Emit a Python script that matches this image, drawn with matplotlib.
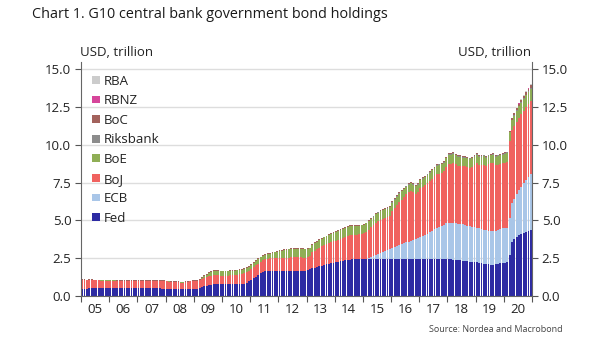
import matplotlib.pyplot as plt
import numpy as np
from matplotlib.patches import Patch

plt.rcParams['font.family'] = ['Open Sans', 'DejaVu Sans']

years = list(range(2005, 2021))
year_labels = [f"{y % 100:02d}" for y in years]

# monthly holdings, USD trillion, Jan 2005 - Dec 2020
fed = [
    0.49, 0.49, 0.49, 0.50, 0.50, 0.50, 0.50, 0.50, 0.50, 0.50, 0.51, 0.51,
    0.51, 0.51, 0.51, 0.51, 0.51, 0.51, 0.51, 0.52, 0.52, 0.52, 0.52, 0.52,
    0.52, 0.52, 0.52, 0.52, 0.52, 0.53, 0.53, 0.53, 0.52, 0.50, 0.49, 0.48,
    0.48, 0.48, 0.48, 0.48, 0.48, 0.48, 0.48, 0.48, 0.48, 0.48, 0.48, 0.48,
    0.48, 0.48, 0.52, 0.58, 0.63, 0.68, 0.72, 0.75, 0.77, 0.77, 0.77, 0.77,
    0.77, 0.77, 0.77, 0.77, 0.77, 0.78, 0.78, 0.78, 0.79, 0.81, 0.87, 0.97,
    1.07, 1.17, 1.28, 1.39, 1.50, 1.60, 1.64, 1.65, 1.65, 1.65, 1.65, 1.65,
    1.65, 1.66, 1.66, 1.66, 1.66, 1.66, 1.66, 1.66, 1.66, 1.66, 1.66, 1.67,
    1.72, 1.77, 1.82, 1.86, 1.91, 1.96, 2.01, 2.05, 2.09, 2.14, 2.18, 2.21,
    2.25, 2.28, 2.31, 2.34, 2.37, 2.39, 2.41, 2.43, 2.44, 2.45, 2.46, 2.46,
    2.46, 2.46, 2.46, 2.46, 2.46, 2.46, 2.46, 2.46, 2.46, 2.46, 2.46, 2.46,
    2.46, 2.46, 2.46, 2.46, 2.46, 2.46, 2.46, 2.46, 2.46, 2.46, 2.46, 2.46,
    2.46, 2.46, 2.46, 2.46, 2.46, 2.46, 2.46, 2.46, 2.46, 2.45, 2.45, 2.44,
    2.43, 2.42, 2.41, 2.40, 2.38, 2.36, 2.34, 2.32, 2.30, 2.28, 2.26, 2.24,
    2.22, 2.19, 2.16, 2.13, 2.11, 2.09, 2.08, 2.07, 2.09, 2.13, 2.16, 2.20,
    2.21, 2.22, 2.70, 3.60, 3.80, 3.92, 4.02, 4.10, 4.17, 4.24, 4.30, 4.36,
]

ecb = [0.0] * 120 + [
    0.00, 0.00, 0.06, 0.13, 0.20, 0.27, 0.33, 0.40, 0.46, 0.53, 0.60, 0.66,
    0.72, 0.78, 0.84, 0.91, 0.98, 1.04, 1.09, 1.14, 1.19, 1.25, 1.30, 1.35,
    1.42, 1.50, 1.58, 1.66, 1.76, 1.86, 1.96, 2.04, 2.12, 2.18, 2.26, 2.36,
    2.42, 2.44, 2.45, 2.43, 2.40, 2.40, 2.40, 2.38, 2.36, 2.34, 2.32, 2.30,
    2.30, 2.29, 2.28, 2.26, 2.25, 2.24, 2.23, 2.22, 2.22, 2.24, 2.27, 2.30,
    2.29, 2.30, 2.48, 2.52, 2.62, 2.80, 2.98, 3.12, 3.30, 3.46, 3.60, 3.74,
]

boj = [
    0.55, 0.55, 0.54, 0.54, 0.54, 0.53, 0.53, 0.53, 0.52, 0.52, 0.51, 0.51,
    0.51, 0.51, 0.51, 0.50, 0.50, 0.50, 0.49, 0.49, 0.49, 0.48, 0.48, 0.48,
    0.47, 0.47, 0.47, 0.47, 0.46, 0.46, 0.46, 0.47, 0.48, 0.48, 0.49, 0.49,
    0.48, 0.47, 0.46, 0.45, 0.43, 0.42, 0.41, 0.41, 0.42, 0.45, 0.48, 0.50,
    0.50, 0.50, 0.52, 0.54, 0.56, 0.57, 0.59, 0.60, 0.61, 0.61, 0.60, 0.58,
    0.58, 0.58, 0.58, 0.59, 0.60, 0.62, 0.64, 0.66, 0.68, 0.70, 0.70, 0.70,
    0.71, 0.72, 0.74, 0.76, 0.77, 0.78, 0.80, 0.83, 0.84, 0.85, 0.85, 0.85,
    0.86, 0.85, 0.86, 0.87, 0.88, 0.89, 0.90, 0.90, 0.90, 0.89, 0.88, 0.87,
    0.85, 0.86, 1.06, 1.12, 1.17, 1.22, 1.27, 1.30, 1.32, 1.34, 1.37, 1.40,
    1.42, 1.45, 1.48, 1.53, 1.56, 1.59, 1.62, 1.62, 1.62, 1.59, 1.61, 1.64,
    1.69, 1.79, 1.87, 1.95, 2.02, 2.10, 2.14, 2.17, 2.18, 2.18, 2.16, 2.20,
    2.45, 2.60, 2.74, 2.87, 2.94, 3.05, 3.19, 3.28, 3.31, 3.16, 3.00, 3.04,
    3.26, 3.28, 3.30, 3.36, 3.40, 3.44, 3.49, 3.57, 3.52, 3.51, 3.53, 3.73,
    3.91, 3.90, 3.94, 3.88, 3.85, 3.87, 3.85, 3.89, 3.88, 3.88, 3.97, 4.11,
    4.27, 4.16, 4.20, 4.30, 4.24, 4.38, 4.46, 4.53, 4.35, 4.32, 4.31, 4.28,
    4.33, 4.36, 5.05, 4.85, 4.82, 4.80, 4.80, 4.80, 4.80, 4.80, 4.80, 4.80,
]

boe = [0.01] * 48 + [
    0.01, 0.01, 0.04, 0.08, 0.13, 0.17, 0.21, 0.24, 0.27, 0.28, 0.28, 0.28,
    0.28, 0.28, 0.28, 0.28, 0.27, 0.27, 0.28, 0.28, 0.28, 0.28, 0.28, 0.28,
    0.29, 0.29, 0.29, 0.29, 0.29, 0.29, 0.29, 0.29, 0.30, 0.34, 0.38, 0.42,
    0.46, 0.50, 0.52, 0.54, 0.55, 0.55, 0.55, 0.56, 0.56, 0.56, 0.56, 0.55,
    0.53, 0.52, 0.52, 0.52, 0.52, 0.52, 0.52, 0.53, 0.54, 0.55, 0.55, 0.56,
    0.56, 0.57, 0.58, 0.58, 0.59, 0.60, 0.60, 0.60, 0.59, 0.59, 0.58, 0.57,
    0.56, 0.55, 0.55, 0.56, 0.57, 0.58, 0.58, 0.58, 0.57, 0.57, 0.56, 0.55,
    0.54, 0.53, 0.53, 0.53, 0.54, 0.52, 0.48, 0.49, 0.51, 0.50, 0.51, 0.52,
    0.52, 0.52, 0.52, 0.53, 0.54, 0.55, 0.55, 0.54, 0.56, 0.57, 0.57, 0.58,
    0.60, 0.60, 0.61, 0.60, 0.58, 0.58, 0.57, 0.57, 0.57, 0.56, 0.56, 0.56,
    0.57, 0.57, 0.57, 0.57, 0.56, 0.55, 0.54, 0.54, 0.55, 0.57, 0.57, 0.58,
    0.58, 0.58, 0.60, 0.65, 0.69, 0.72, 0.74, 0.75, 0.76, 0.77, 0.78, 0.80,
]

riksbank = [0.0] * 120 + [
    0.000, 0.005, 0.010, 0.012, 0.015, 0.020, 0.020, 0.022, 0.025, 0.028, 0.030, 0.030,
    0.032, 0.033, 0.034, 0.035, 0.035, 0.035, 0.035, 0.035, 0.036, 0.036, 0.036, 0.037,
    0.040, 0.040, 0.040, 0.040, 0.040, 0.040, 0.040, 0.040, 0.040, 0.040, 0.040, 0.040,
    0.040, 0.040, 0.040, 0.040, 0.040, 0.040, 0.040, 0.040, 0.040, 0.040, 0.040, 0.040,
    0.040, 0.040, 0.040, 0.040, 0.040, 0.040, 0.040, 0.040, 0.040, 0.040, 0.040, 0.040,
    0.040, 0.040, 0.040, 0.045, 0.045, 0.050, 0.050, 0.050, 0.050, 0.050, 0.050, 0.050,
]

boc = [0.05] * 180 + [
    0.05, 0.05, 0.06, 0.09, 0.11, 0.12, 0.13, 0.14, 0.15, 0.16, 0.17, 0.18,
]

rbnz = [0.0] * 180 + [
    0.0, 0.0, 0.005, 0.010, 0.015, 0.020, 0.025, 0.030, 0.030, 0.035, 0.040, 0.040,
]

rba = [0.0] * 180 + [
    0.0, 0.0, 0.005, 0.015, 0.020, 0.025, 0.030, 0.030, 0.035, 0.040, 0.050, 0.060,
]

series = [
    ("Fed", fed, "#2d2ba3"),
    ("ECB", ecb, "#a9c6e8"),
    ("BoJ", boj, "#f0625f"),
    ("BoE", boe, "#8fae55"),
    ("Riksbank", riksbank, "#8c8c8c"),
    ("BoC", boc, "#a3625c"),
    ("RBNZ", rbnz, "#d6459a"),
    ("RBA", rba, "#cccccc"),
]

n = len(fed)
x = 2005 + (np.arange(n) + 0.5) / 12

fig = plt.figure(figsize=(6.05, 3.41), dpi=100)
ax = fig.add_axes([81 / 605, 45 / 341, 451 / 605, 234.3 / 341])

bottom = np.zeros(n)
for name, vals, col in series:
    vals = np.array(vals)
    ax.bar(x, vals, width=0.8 / 12, bottom=bottom, color=col, linewidth=0, zorder=2)
    bottom += vals

ax.set_xlim(2005, 2021)
ax.set_ylim(0, 15.5)
yt = np.arange(0, 15.1, 2.5)
ax.set_yticks(yt)
ax.set_yticklabels([f"{v:.1f}" for v in yt])
ax.yaxis.grid(True, color='#dddddd', linewidth=1, zorder=0)
ax.set_axisbelow(True)

ax.set_xticks(range(2005, 2022))
ax.set_xticklabels([])
ax.set_xticks(np.array(years) + 0.5, minor=True)
ax.set_xticklabels(year_labels, minor=True)
ax.tick_params(axis='x', which='major', length=4, color='#555555', direction='out')
ax.tick_params(axis='x', which='minor', length=0, labelsize=9.5, labelcolor='#222222', pad=5)
ax.tick_params(axis='y', left=True, right=True, labelleft=True, labelright=True,
               length=4, color='#555555', labelsize=9.5, labelcolor='#222222', pad=3)

for s in ['left', 'right', 'bottom']:
    ax.spines[s].set_color('#666666')
    ax.spines[s].set_linewidth(0.8)
ax.spines['top'].set_visible(False)

handles = [Patch(facecolor=col, edgecolor='none') for name, vals, col in series][::-1]
labels = [name for name, vals, col in series][::-1]
ax.legend(handles, labels, loc='upper left', bbox_to_anchor=(0.025, 0.945), frameon=False,
          fontsize=9.5, handlelength=0.55, handleheight=0.55, handletextpad=0.35,
          labelspacing=0.5, borderpad=0, borderaxespad=0, labelcolor='#222222')

fig.text(32 / 605, 1 - 15 / 341, "Chart 1. G10 central bank government bond holdings",
         fontsize=10.4, color='#1a1a1a', va='center', ha='left')
fig.text(80 / 605, 1 - 52 / 341, "USD, trillion", fontsize=9.5, color='#222222',
         va='center', ha='left')
fig.text(531 / 605, 1 - 52 / 341, "USD, trillion", fontsize=9.5, color='#222222',
         va='center', ha='right')
fig.text(563 / 605, 1 - 329 / 341, "Source: Nordea and Macrobond", fontsize=6.5,
         color='#444444', va='center', ha='right')

fig.savefig("out.png", dpi=100)
